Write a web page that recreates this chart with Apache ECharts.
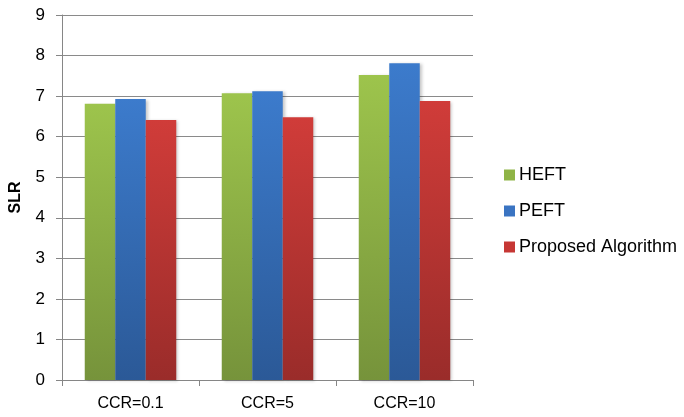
<!DOCTYPE html>
<html>
<head>
<meta charset="utf-8">
<script src="https://cdn.jsdelivr.net/npm/echarts@6/dist/echarts.min.js"></script>
<style>
  html, body { margin: 0; padding: 0; background: #fff; }
  #chart { width: 684px; height: 417px; }
</style>
</head>
<body>
<div id="chart"></div>
<script>
// Categories and series values (SLR per CCR setting)
var categories = ['CCR=0.1', 'CCR=5', 'CCR=10'];
var heft = [6.81, 7.07, 7.52];
var peft = [6.93, 7.12, 7.81];
var proposed = [6.41, 6.48, 6.88];
var yTicks = [0, 1, 2, 3, 4, 5, 6, 7, 8, 9];

var FONT = 'Liberation Sans';

function grad(top, bottom) {
  return new echarts.graphic.LinearGradient(0, 0, 0, 1, [
    { offset: 0, color: top },
    { offset: 1, color: bottom }
  ]);
}

function barSeries(name, data, top, bottom) {
  return {
    name: name,
    type: 'bar',
    data: data,
    barWidth: 30.5,
    barGap: '0%',
    itemStyle: {
      color: grad(top, bottom),
      shadowColor: 'rgba(0,0,0,0.22)',
      shadowBlur: 3,
      shadowOffsetX: 2,
      shadowOffsetY: 1
    }
  };
}

var chart = echarts.init(document.getElementById('chart'), null, { renderer: 'canvas' });
chart.setOption({
  animation: false,
  backgroundColor: '#ffffff',
  grid: { left: 60, right: 211, top: 15, bottom: 37, containLabel: false },
  legend: {
    orient: 'vertical',
    left: 504,
    top: 165,
    padding: 0,
    itemWidth: 11,
    itemHeight: 11,
    itemGap: 16,
    icon: 'rect',
    textStyle: { fontFamily: FONT, fontSize: 18, color: '#000', lineHeight: 20, padding: [0, 0, 0, -1] },
    data: [
      { name: 'HEFT', itemStyle: { color: '#8fb446' } },
      { name: 'PEFT', itemStyle: { color: '#3a74c2' } },
      { name: 'Proposed Algorithm', itemStyle: { color: '#c63734' } }
    ]
  },
  xAxis: {
    type: 'category',
    data: categories,
    axisLine: { lineStyle: { color: '#868686', width: 1 } },
    axisTick: { show: true, length: 6, lineStyle: { color: '#868686' } },
    axisLabel: { fontFamily: FONT, fontSize: 16, color: '#000', margin: 16 }
  },
  yAxis: {
    type: 'value',
    min: yTicks[0],
    max: yTicks[yTicks.length - 1],
    interval: 1,
    name: 'SLR',
    nameLocation: 'middle',
    nameGap: 38,
    nameRotate: 90,
    nameTextStyle: { fontFamily: FONT, fontSize: 16, fontWeight: 'bold', color: '#000' },
    axisLine: { show: true, lineStyle: { color: '#868686', width: 1 } },
    axisTick: { show: true, length: 6, lineStyle: { color: '#868686' } },
    axisLabel: { fontFamily: FONT, fontSize: 17, color: '#000', margin: 17 },
    splitLine: { show: true, lineStyle: { color: '#8a8a8a', width: 1 } }
  },
  series: [
    barSeries('HEFT', heft, '#9dc44c', '#76933b'),
    barSeries('PEFT', peft, '#3c7bcc', '#2b5997'),
    barSeries('Proposed Algorithm', proposed, '#d03c39', '#9a2c2a')
  ]
});
</script>
</body>
</html>
